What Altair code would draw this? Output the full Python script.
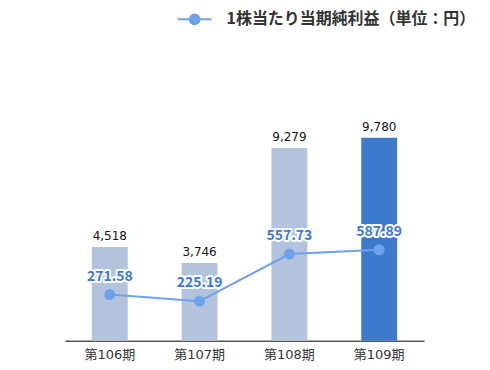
import altair as alt
import pandas as pd

periods = ["第106期", "第107期", "第108期", "第109期"]
sales_values = [4518, 3746, 9279, 9780]
eps_values = [271.58, 225.19, 557.73, 587.89]
series_name = "1株当たり当期純利益（単位：円）"
highlight = "第109期"

df = pd.DataFrame({
    "period": periods,
    "sales": sales_values,
    "eps": eps_values,
    "series": [series_name] * len(periods),
    "sales_label": [f"{v:,}" for v in sales_values],
    "eps_label": [f"{v:.2f}" for v in eps_values],
})

FONT = "Noto Sans CJK JP"
MIX_FONT = "DejaVu Sans, Noto Sans CJK JP"
NUM_FONT = "DejaVu Sans"
LINE_COLOR = "#6ea2ee"
LABEL_BLUE = "#3c78d8"

x = alt.X(
    "period:N", sort=periods,
    scale=alt.Scale(paddingInner=0.6, paddingOuter=0.3),
    axis=alt.Axis(title=None, labelAngle=0, ticks=False, domainColor="#000000",
                  domainWidth=1, labelFont=MIX_FONT, labelFontSize=13,
                  labelColor="#333333", labelPadding=8),
)
ybar = alt.Y("sales:Q", scale=alt.Scale(domain=[0, 15962], nice=False, zero=True), axis=None)
yline = alt.Y("eps:Q", scale=alt.Scale(domain=[-54, 2286], nice=False, zero=False), axis=None)

base = alt.Chart(df)

bars = base.mark_bar().encode(
    x=x, y=ybar,
    color=alt.condition(alt.datum.period == highlight, alt.value("#3d7acc"), alt.value("#b3c3dd")),
)
bar_text = base.mark_text(dy=-11, baseline="middle", font=NUM_FONT, fontSize=12, color="#111111").encode(
    x=x, y=ybar, text="sales_label:N")

legend_path = ("M-2.4,0 L2.4,0 M-0.7,0 A0.7,0.7 0 1,0 0.7,0 "
               "A0.7,0.7 0 1,0 -0.7,0 Z")
line = base.mark_line(strokeWidth=2).encode(
    x=x, y=yline,
    color=alt.Color("series:N", scale=alt.Scale(range=[LINE_COLOR]),
                    legend=alt.Legend(title=None, orient="none", legendX=122, legendY=2,
                                      labelFont=FONT, labelFontSize=16, labelFontWeight="bold",
                                      labelColor="#333333", symbolType=legend_path,
                                      symbolSize=196, symbolStrokeWidth=2,
                                      symbolFillColor=LINE_COLOR, symbolStrokeColor=LINE_COLOR,
                                      labelOffset=24, labelLimit=400)),
)
points = base.mark_circle(size=120, opacity=1, color=LINE_COLOR).encode(x=x, y=yline)
eps_halo = base.mark_text(dy=-18, baseline="middle", font=FONT, fontSize=14, fontWeight="bold",
                          color="white", stroke="white", strokeWidth=4, strokeJoin="round").encode(
    x=x, y=yline, text="eps_label:N")
eps_text = base.mark_text(dy=-18, baseline="middle", font=FONT, fontSize=14, fontWeight="bold",
                          color=LABEL_BLUE).encode(x=x, y=yline, text="eps_label:N")

left = alt.layer(bars, bar_text)
right = alt.layer(line, points, eps_halo, eps_text)

chart = alt.layer(left, right).resolve_scale(y="independent").properties(
    width=360, height=332,
    padding={"left": 57, "top": 1, "right": 6, "bottom": 0},
).configure(background="white", view=alt.ViewConfig(stroke=None))

chart.save("out.html", embed_options={"renderer": "svg", "actions": False})
